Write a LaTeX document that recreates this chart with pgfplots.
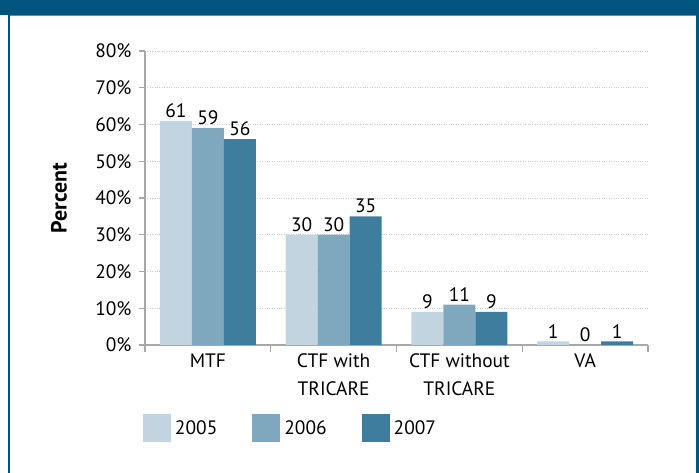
\documentclass[border=0pt]{standalone}
\usepackage{fontspec}
\setmainfont{PT Sans}
\usepackage{pgfplots}
\usetikzlibrary{calc}
\pgfplotsset{compat=1.18}
\definecolor{band}{HTML}{02557F}
\definecolor{bandlight}{HTML}{5B8FB0}
\definecolor{cA}{HTML}{C1D4DF}
\definecolor{cB}{HTML}{7FA8BF}
\definecolor{cC}{HTML}{3F7D9F}
\definecolor{axgray}{HTML}{A8A8A8}
\definecolor{gridgray}{HTML}{C8C8C8}
\begin{document}
\begin{tikzpicture}
\begin{axis}[
  scale only axis, width=503bp, height=294bp,
  ymin=0, ymax=80, xmin=-0.5, xmax=3.5,
  axis x line*=bottom, axis y line*=left,
  axis line style={draw=axgray, line width=1.1bp, -},
  ytick={0,10,...,80},
  yticklabels={0\%,10\%,20\%,30\%,40\%,50\%,60\%,70\%,80\%},
  ymajorgrids, grid style={draw=gridgray, dotted, line width=0.8bp},
  xtick={0,1,2,3},
  xticklabels={MTF, CTF with\\TRICARE, CTF without\\TRICARE, VA},
  minor xtick={-0.5,0.5,1.5,2.5,3.5},
  tick align=outside,
  major tick length=6bp, minor tick length=7bp,
  x tick style={draw=none},
  minor x tick style={draw=axgray, line width=1.1bp},
  y tick style={draw=axgray, line width=1.1bp},
  tick label style={font=\fontsize{19.5}{22}\selectfont, text=black},
  yticklabel style={xshift=-4bp},
  xticklabel style={align=center, font=\fontsize{19.5}{28}\selectfont, yshift=1bp},
  ylabel={Percent},
  ylabel style={at={(axis description cs:-0.171,0.5)}, anchor=center, font=\fontsize{22}{24}\selectfont\bfseries},
  ybar=0pt, bar width=32bp,
  nodes near coords={\pgfmathprintnumber[assume math mode=true]{\pgfplotspointmeta}},
  every node near coord/.append style={font=\fontsize{19.5}{22}\selectfont, text=black, inner sep=2bp, yshift=1bp},
  legend image code/.code={\fill[#1,draw=none] (0bp,-14bp) rectangle (28bp,14bp);},
  legend columns=-1,
  legend style={draw=none, fill=none, at={(rel axis cs:0,0)}, anchor=north west,
    xshift=-2bp, yshift=-69bp, inner sep=0pt, outer sep=0pt,
    font=\fontsize{19.5}{22}\selectfont,
    /tikz/every even column/.append style={column sep=33bp},
    /tikz/every odd column/.append style={column sep=2bp}},
]
\coordinate (O) at (rel axis cs:0,0);
\addplot[fill=cA, draw=none] coordinates {(0,61) (1,30) (2,9) (3,1)};
\addplot[fill=cB, draw=none] coordinates {(0,59) (1,30) (2,11) (3,0)};
\addplot[fill=cC, draw=none] coordinates {(0,56) (1,35) (2,9) (3,1)};
\legend{2005,2006,2007}
\end{axis}
\begin{scope}[shift={(O)}, x=1bp, y=1bp]
\pgfresetboundingbox
\useasboundingbox (-145,345) rectangle (554,-128);
\fill[band] (-145,345) rectangle (554,330);
\fill[bandlight] (-135,330) rectangle (551,328.5);
\fill[band] (-137,330) rectangle (-134.5,-128);
\fill[band] (551,330) rectangle (554,-128);
\end{scope}
\end{tikzpicture}
\end{document}
